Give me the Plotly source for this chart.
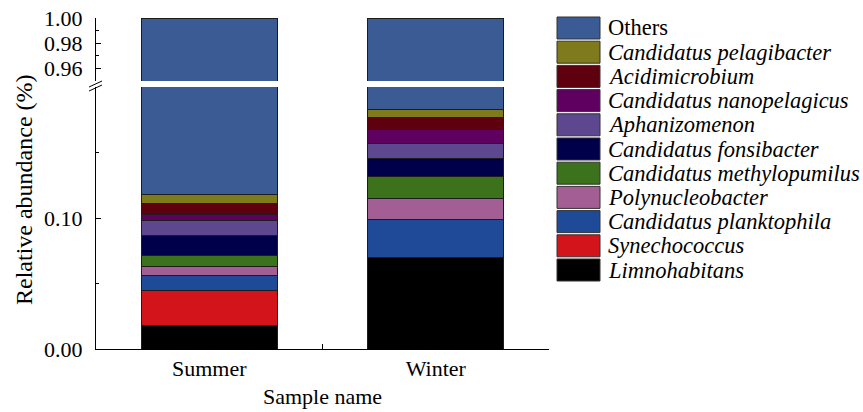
import plotly.graph_objects as go

# ---------------- data ----------------
samples = ["Summer", "Winter"]

# stacking order: bottom -> top
taxa = [
    "Limnohabitans",
    "Synechococcus",
    "Candidatus planktophila",
    "Polynucleobacter",
    "Candidatus methylopumilus",
    "Candidatus fonsibacter",
    "Aphanizomenon",
    "Candidatus nanopelagicus",
    "Acidimicrobium",
    "Candidatus pelagibacter",
    "Others",
]
limnohabitans = [0.0177, 0.0698]
synechococcus = [0.0271, 0.0]
planktophila = [0.0116, 0.0287]
polynucleobacter = [0.0067, 0.0167]
methylopumilus = [0.0079, 0.0166]
fonsibacter = [0.0159, 0.0136]
aphanizomenon = [0.0110, 0.0118]
nanopelagicus = [0.0046, 0.0100]
acidimicrobium = [0.0085, 0.0097]
pelagibacter = [0.0069, 0.0062]
others = [0.8821, 0.8169]

series = [limnohabitans, synechococcus, planktophila, polynucleobacter, methylopumilus,
          fonsibacter, aphanizomenon, nanopelagicus, acidimicrobium, pelagibacter, others]
colors = ["#000000", "#D3151B", "#1F4A97", "#A35E94", "#3C721B",
          "#00004A", "#5D478F", "#5F0060", "#5E000D", "#7F7A1B", "#3A5B93"]

lower_ticks = [0.0, 0.10]
lower_ticktext = ["0.00", "0.10"]
lower_minor = [0.05, 0.15]
upper_ticks = [0.96, 0.98, 1.00]
upper_ticktext = ["0.96", "0.98", "1.00"]
upper_minor = [0.97, 0.99]

# ---------------- layout geometry (pixels) ----------------
W, H = 863, 412
L, R, T, B = 96, 549, 18, 349
pw, ph = R - L, B - T
def px(x): return (x - L) / pw
def py(y): return (B - y) / ph

FONT = "Liberation Serif"
fig = go.Figure()

for name, vals, col in zip(taxa, series, colors):
    for xa, ya in (("x", "y"), ("x2", "y2")):
        fig.add_trace(go.Bar(
            x=samples, y=vals, name=name, xaxis=xa, yaxis=ya,
            marker=dict(color=col, line=dict(color="#1c1c1c", width=1)),
            showlegend=False, hoverinfo="name+y",
        ))

axis_common = dict(showline=True, linecolor="black", linewidth=1, showgrid=False,
                   zeroline=False, automargin=False,
                   tickfont=dict(family=FONT, size=22, color="black"),
                   ticks="inside", tickcolor="black", ticklen=5)

fig.update_layout(
    width=W, height=H,
    margin=dict(l=L, r=W - R, t=T, b=H - B, autoexpand=False),
    paper_bgcolor="white", plot_bgcolor="white",
    barmode="stack", bargap=0.4,
    font=dict(family=FONT, size=22, color="black"),
    xaxis=dict(domain=[0, 1], anchor="y", range=[-0.5, 1.5], tickson="boundaries",
               title=dict(text="Sample name", font=dict(family=FONT, size=22), standoff=8),
               **axis_common),
    xaxis2=dict(domain=[0, 1], anchor="y2", matches="x", visible=False),
    yaxis=dict(domain=[0, py(87)], anchor="x", range=[0, 0.2],
               tickvals=lower_ticks, ticktext=lower_ticktext, ticklabelstandoff=8,
               minor=dict(tickvals=lower_minor, ticks="inside", ticklen=3, tickcolor="black"),
               **axis_common),
    yaxis2=dict(domain=[py(81), 1], anchor="x2", range=[0.95, 1.0],
                tickvals=upper_ticks, ticktext=upper_ticktext, ticklabelstandoff=8,
                minor=dict(tickvals=upper_minor, ticks="inside", ticklen=3, tickcolor="black"),
                **axis_common),
)

# y-axis title
fig.add_annotation(text="Relative abundance (%)", textangle=-90, xref="paper", yref="paper",
                   x=px(24), y=py(190), showarrow=False, xanchor="center", yanchor="middle",
                   font=dict(family=FONT, size=24, color="black"))

# axis break marks
for off in (0, 4):
    fig.add_shape(type="line", xref="paper", yref="paper",
                  x0=px(89), y0=py(87 + off), x1=px(102), y1=py(81 + off),
                  line=dict(color="black", width=1))

# legend (top to bottom: reverse of stacking order)
row0, step = 28, 24.2
for i, (name, col) in enumerate(zip(taxa[::-1], colors[::-1])):
    yc = row0 + i * step
    fig.add_shape(type="rect", xref="paper", yref="paper",
                  x0=px(557), x1=px(600), y0=py(yc + 11), y1=py(yc - 11),
                  fillcolor=col, line=dict(color="#333333", width=1))
    txt = name if name == "Others" else f"<i>{name}</i>"
    fig.add_annotation(text=txt, xref="paper", yref="paper", x=px(606), y=py(yc),
                       xanchor="left", yanchor="middle", showarrow=False,
                       font=dict(family=FONT, size=22.5, color="black"))

fig.write_html("out.html", config={"displayModeBar": False},
               post_script="document.body.style.margin='0';document.body.style.overflow='hidden';")
